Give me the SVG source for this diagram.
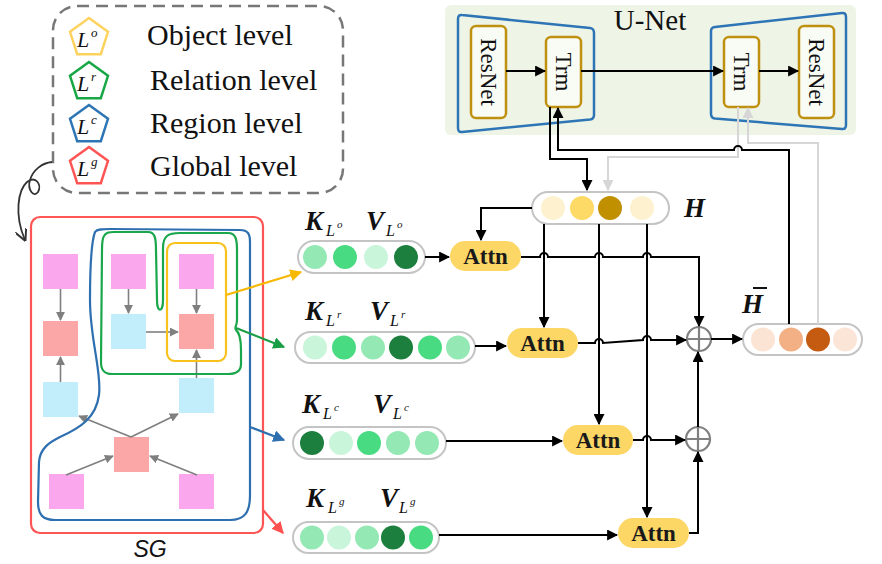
<svg xmlns="http://www.w3.org/2000/svg" width="882" height="564" viewBox="0 0 882 564">
  <style>
    .serif { font-family: "Liberation Serif", "Times New Roman", serif; fill: #111; }
    .leg { font-size: 30px; }
    .lt { font-family: "Liberation Serif", serif; font-style: italic; font-size: 22px; fill: #111; }
    .lsup { font-family: "Liberation Serif", serif; font-style: italic; font-size: 13px; fill: #111; }
    .kv { font-family: "Liberation Serif", serif; font-style: italic; font-weight: bold; font-size: 27px; fill: #111; }
    .sub { font-family: "Liberation Serif", serif; font-style: italic; font-size: 16px; fill: #111; }
    .sup { font-family: "Liberation Serif", serif; font-style: italic; font-size: 11px; fill: #111; }
    .attn rect { fill: #fdd766; }
    .attn text { font-family: "Liberation Serif", serif; font-weight: bold; font-size: 23px; fill: #1a1a1a; text-anchor: middle; }
    .pill { fill: #fff; stroke: #c4c4c4; stroke-width: 2; }
    .blk { fill: none; stroke: #000; stroke-width: 2; }
    .gry { fill: none; stroke: #d6d6d6; stroke-width: 2; }
    .sg { fill: none; stroke: #7f7f7f; stroke-width: 1.6; }
    .box { fill: #f9fcf5; stroke: #c09010; stroke-width: 2.5; }
    .trap { fill: none; stroke: #2e75b6; stroke-width: 2.5; stroke-linejoin: round; }
    .rot { font-family: "Liberation Serif", serif; font-size: 23px; fill: #111; text-anchor: middle; }
    .plus circle { fill: #fff; stroke: #808080; stroke-width: 2.2; }
    .plus path { stroke: #808080; stroke-width: 2.2; }
    .pk { fill: #fba7ee; }
    .sm { fill: #fca7a7; }
    .lb { fill: #c2edfb; }
    .g1 { fill: #94e8b4; } .g2 { fill: #48db82; } .g3 { fill: #c9f5da; } .g4 { fill: #1c7f3d; }
  </style>
  <defs>
    <marker id="ab" viewBox="0 0 10 10" refX="9" refY="5" markerWidth="11" markerHeight="11" orient="auto" markerUnits="userSpaceOnUse">
      <path d="M0,0 L10,5 L0,10 z" fill="#000"/>
    </marker>
    <marker id="ag" viewBox="0 0 10 10" refX="9" refY="5" markerWidth="11" markerHeight="11" orient="auto" markerUnits="userSpaceOnUse">
      <path d="M0,0 L10,5 L0,10 z" fill="#d6d6d6"/>
    </marker>
    <marker id="as" viewBox="0 0 10 10" refX="9" refY="5" markerWidth="9" markerHeight="9" orient="auto" markerUnits="userSpaceOnUse">
      <path d="M0,0 L10,5 L0,10 z" fill="#7f7f7f"/>
    </marker>
    <marker id="ay" viewBox="0 0 10 10" refX="9" refY="5" markerWidth="12" markerHeight="12" orient="auto" markerUnits="userSpaceOnUse">
      <path d="M0,0 L10,5 L0,10 z" fill="#f7b800"/>
    </marker>
    <marker id="agr" viewBox="0 0 10 10" refX="9" refY="5" markerWidth="12" markerHeight="12" orient="auto" markerUnits="userSpaceOnUse">
      <path d="M0,0 L10,5 L0,10 z" fill="#1a9e45"/>
    </marker>
    <marker id="abl" viewBox="0 0 10 10" refX="9" refY="5" markerWidth="12" markerHeight="12" orient="auto" markerUnits="userSpaceOnUse">
      <path d="M0,0 L10,5 L0,10 z" fill="#2e6fb0"/>
    </marker>
    <marker id="ar" viewBox="0 0 10 10" refX="9" refY="5" markerWidth="12" markerHeight="12" orient="auto" markerUnits="userSpaceOnUse">
      <path d="M0,0 L10,5 L0,10 z" fill="#ff5050"/>
    </marker>
    <marker id="aopen" viewBox="0 0 10 10" refX="9" refY="5" markerWidth="12" markerHeight="12" orient="auto" markerUnits="userSpaceOnUse">
      <path d="M0,0 L10,5 L0,10" fill="none" stroke="#333" stroke-width="1.6"/>
    </marker>
  </defs>

  <!-- legend -->
  <g id="legend">
    <rect x="53" y="6" width="290" height="187" rx="24" fill="#fff" stroke="#777" stroke-width="2.5" stroke-dasharray="12,7"/>
    <g transform="translate(89,38)">
      <polygon points="0,-20 19,-6.2 11.8,16.2 -11.8,16.2 -19,-6.2" fill="#fff" stroke="#fdd25e" stroke-width="2.5"/>
      <text class="lt" x="-12" y="9">L</text><text class="lsup" x="2" y="-1">o</text>
    </g>
    <g transform="translate(89,82)">
      <polygon points="0,-20 19,-6.2 11.8,16.2 -11.8,16.2 -19,-6.2" fill="#fff" stroke="#17a845" stroke-width="2.5"/>
      <text class="lt" x="-12" y="9">L</text><text class="lsup" x="2" y="-1">r</text>
    </g>
    <g transform="translate(89,125)">
      <polygon points="0,-20 19,-6.2 11.8,16.2 -11.8,16.2 -19,-6.2" fill="#fff" stroke="#2e75b6" stroke-width="2.5"/>
      <text class="lt" x="-12" y="9">L</text><text class="lsup" x="2" y="-1">c</text>
    </g>
    <g transform="translate(89,167)">
      <polygon points="0,-20 19,-6.2 11.8,16.2 -11.8,16.2 -19,-6.2" fill="#fff" stroke="#ff5454" stroke-width="2.5"/>
      <text class="lt" x="-12" y="9">L</text><text class="lsup" x="2" y="-1">g</text>
    </g>
    <text class="serif leg" x="147" y="45">Object level</text>
    <text class="serif leg" x="150" y="90">Relation level</text>
    <text class="serif leg" x="150" y="133">Region level</text>
    <text class="serif leg" x="150" y="176">Global level</text>
  </g>

  <!-- curly pointer from legend to scene graph -->
  <path d="M52,162 C42,163 33,170 30,180 C27,190 34,198 38,192 C42,185 36,175 27,182 C18,190 14,215 25,240" fill="none" stroke="#333" stroke-width="1.8" marker-end="url(#aopen)"/>

  <!-- U-Net -->
  <g id="unet">
    <rect x="445" y="5" width="411" height="130" rx="6" fill="#eef5e7"/>
    <text class="serif" x="650" y="30" font-size="29" text-anchor="middle">U-Net</text>
    <path class="trap" d="M462,15 L590,28 Q594,28.5 594,33 L594,115 Q594,119 590,119.5 L462,132 Q458,132.5 458,128 L458,19 Q458,14.5 462,15 Z"/>
    <path class="trap" d="M715,27 L842,13 Q846,12.5 846,17 L846,125 Q846,129.5 842,129 L715,118.5 Q711,118 711,114 L711,31 Q711,27.5 715,27 Z"/>
    <g id="resnet-l"><rect class="box" x="471" y="26" width="35" height="92" rx="5"/><text class="rot" transform="translate(488.5,72) rotate(90)" y="8">ResNet</text></g>
    <g id="trm-l"><rect class="box" x="546" y="37" width="35" height="70" rx="5"/><text class="rot" transform="translate(563.5,72) rotate(90)" y="8">Trm</text></g>
    <g id="trm-r"><rect class="box" x="724" y="37" width="35" height="70" rx="5"/><text class="rot" transform="translate(741.5,72) rotate(90)" y="8">Trm</text></g>
    <g id="resnet-r"><rect class="box" x="799" y="26" width="35" height="92" rx="5"/><text class="rot" transform="translate(816.5,72) rotate(90)" y="8">ResNet</text></g>
  </g>

  <!-- scene graph -->
  <g id="sg">
    <rect x="31" y="217" width="232" height="316" rx="9" fill="#fff" stroke="#ff5555" stroke-width="2.2"/>
    <text x="150" y="557" font-family="'Liberation Sans', sans-serif" font-style="italic" font-size="23" fill="#111" text-anchor="middle">SG</text>
    <g id="sg-nodes">
      <rect class="pk" x="43" y="254" width="35" height="35"/>
      <rect class="pk" x="111" y="254" width="35" height="35"/>
      <rect class="pk" x="179" y="254" width="35" height="35"/>
      <rect class="pk" x="49" y="474" width="35" height="35"/>
      <rect class="pk" x="179" y="474" width="35" height="35"/>
      <rect class="sm" x="43" y="321" width="35" height="35"/>
      <rect class="sm" x="179" y="314" width="35" height="35"/>
      <rect class="sm" x="114" y="437" width="35" height="35"/>
      <rect class="lb" x="43" y="382" width="35" height="35"/>
      <rect class="lb" x="111" y="314" width="35" height="35"/>
      <rect class="lb" x="179" y="378" width="35" height="35"/>
    </g>
    <g id="sg-edges">
      <path class="sg" d="M60.5,289 V320" marker-end="url(#as)"/>
      <path class="sg" d="M60.5,382 V357" marker-end="url(#as)"/>
      <path class="sg" d="M128.5,289 V313" marker-end="url(#as)"/>
      <path class="sg" d="M196.5,289 V313" marker-end="url(#as)"/>
      <path class="sg" d="M146,332 H178" marker-end="url(#as)"/>
      <path class="sg" d="M196.5,378 V350" marker-end="url(#as)"/>
      <path class="sg" d="M131,437 L79,416" marker-end="url(#as)"/>
      <path class="sg" d="M131,437 L178,414" marker-end="url(#as)"/>
      <path class="sg" d="M66,475 L113,456" marker-end="url(#as)"/>
      <path class="sg" d="M197,475 L150,456" marker-end="url(#as)"/>
    </g>
    <!-- level outlines -->
    <rect x="167" y="243" width="59" height="118" rx="8" fill="none" stroke="#f8c11c" stroke-width="2.2"/>
    <path d="M104,236 C106,232 110,232 114,232 L148,232 C155,232 156,238 156,250 L157,300 C157,313 163,313 163,300 L163,248 C163,236 168,233 180,233 L228,233 C236,233 237,240 237,250 L237,320 C237,326 234,327 236,330 C240,333 241,340 241,350 L241,364 C241,372 235,374 228,374 L112,374 C104,374 101,370 101,362 L102,250 C102,243 102,239 104,236 Z" fill="none" stroke="#1aa64a" stroke-width="2.2"/>
    <path d="M95,232 C97,229 102,229 110,229 L240,230 C248,230 250,234 250,242 L250,495 C250,512 245,520 230,520 L55,520 C43,520 38,515 38,502 L39,462 C40,448 50,442 60,437 C80,428 96,418 99,395 C102,372 90,340 90,300 C90,262 92,240 95,232 Z" fill="none" stroke="#2e6fb0" stroke-width="2.2"/>
    <!-- outlines feed the per-level key/value sequences -->
    <path d="M226,295 L301,272" fill="none" stroke="#f7b800" stroke-width="2.2" marker-end="url(#ay)"/>
    <path d="M236,328 L284,347" fill="none" stroke="#1a9e45" stroke-width="2.2" marker-end="url(#agr)"/>
    <path d="M250,427 L284,440" fill="none" stroke="#2e6fb0" stroke-width="2.2" marker-end="url(#abl)"/>
    <path d="M263,510 L283,533" fill="none" stroke="#ff5050" stroke-width="2.2" marker-end="url(#ar)"/>
  </g>

  <!-- key/value sequences -->
  <g id="kv-o">
    <text class="kv" x="305" y="230">K</text><text class="sub" x="326" y="236">L</text><text class="sup" x="337" y="228">o</text>
    <text class="kv" x="366" y="230">V</text><text class="sub" x="386" y="236">L</text><text class="sup" x="397" y="228">o</text>
    <rect class="pill" x="298" y="241" width="127" height="32" rx="16"/>
    <circle class="g1" cx="315" cy="257" r="12"/><circle class="g2" cx="345" cy="257" r="12"/>
    <circle class="g3" cx="376" cy="257" r="12"/><circle class="g4" cx="406" cy="257" r="12"/>
  </g>
  <g id="kv-r">
    <text class="kv" x="305" y="320">K</text><text class="sub" x="326" y="326">L</text><text class="sup" x="337" y="318">r</text>
    <text class="kv" x="370" y="320">V</text><text class="sub" x="390" y="326">L</text><text class="sup" x="401" y="318">r</text>
    <rect class="pill" x="295" y="332" width="180" height="31" rx="15.5"/>
    <circle class="g3" cx="315" cy="347.5" r="12"/><circle class="g2" cx="344" cy="347.5" r="12"/>
    <circle class="g1" cx="373" cy="347.5" r="12"/><circle class="g4" cx="401" cy="347.5" r="12"/>
    <circle class="g2" cx="430" cy="347.5" r="12"/><circle class="g1" cx="458" cy="347.5" r="12"/>
  </g>
  <g id="kv-c">
    <text class="kv" x="302" y="413">K</text><text class="sub" x="323" y="419">L</text><text class="sup" x="334" y="411">c</text>
    <text class="kv" x="373" y="413">V</text><text class="sub" x="393" y="419">L</text><text class="sup" x="404" y="411">c</text>
    <rect class="pill" x="293" y="427" width="153" height="32" rx="16"/>
    <circle class="g4" cx="312" cy="443" r="12"/><circle class="g3" cx="341" cy="443" r="12"/>
    <circle class="g2" cx="369" cy="443" r="12"/><circle class="g1" cx="398" cy="443" r="12"/>
    <circle class="g1" cx="427" cy="443" r="12"/>
  </g>
  <g id="kv-g">
    <text class="kv" x="306" y="507">K</text><text class="sub" x="328" y="513">L</text><text class="sup" x="339" y="505">g</text>
    <text class="kv" x="380" y="507">V</text><text class="sub" x="399" y="513">L</text><text class="sup" x="410" y="505">g</text>
    <rect class="pill" x="293" y="522" width="146" height="31" rx="15.5"/>
    <circle class="g1" cx="312" cy="537.5" r="12"/><circle class="g3" cx="339" cy="537.5" r="12"/>
    <circle class="g1" cx="367" cy="537.5" r="12"/><circle class="g4" cx="393" cy="537.5" r="12"/>
    <circle class="g2" cx="421" cy="537.5" r="12"/>
  </g>

  <!-- hidden states -->
  <g id="h">
    <rect class="pill" x="532" y="192" width="137" height="32" rx="16"/>
    <circle cx="553" cy="208" r="12" fill="#fef1cf"/><circle cx="582" cy="208" r="12" fill="#fdd966"/>
    <circle cx="610" cy="208" r="12" fill="#c09000"/><circle cx="642" cy="208" r="12" fill="#fef1cf"/>
    <text class="kv" x="684" y="217" font-size="28">H</text>
  </g>
  <g id="hbar">
    <rect class="pill" x="743" y="324" width="119" height="31" rx="15.5"/>
    <circle cx="763" cy="339.5" r="12" fill="#fbe4d4"/><circle cx="791" cy="339.5" r="12" fill="#f3b084"/>
    <circle cx="818" cy="339.5" r="12" fill="#c55a11"/><circle cx="845" cy="339.5" r="12" fill="#fbe5d7"/>
    <text class="kv" x="742" y="313" font-size="28">H</text>
    <path d="M753,288 H767" stroke="#111" stroke-width="2"/>
  </g>

  <!-- attention blocks -->
  <g id="attn-o" class="attn"><rect x="450" y="241" width="71" height="30" rx="15"/><text x="485.5" y="264">Attn</text></g>
  <g id="attn-r" class="attn"><rect x="507" y="328" width="71" height="30" rx="15"/><text x="542.5" y="351">Attn</text></g>
  <g id="attn-c" class="attn"><rect x="563" y="425" width="70" height="30" rx="15"/><text x="598" y="448">Attn</text></g>
  <g id="attn-g" class="attn"><rect x="618" y="518" width="71" height="30" rx="15"/><text x="653.5" y="541">Attn</text></g>

  <!-- sum nodes -->
  <g id="sum1" class="plus"><circle cx="699" cy="339" r="12"/><path d="M687,339 H711 M699,327 V351"/></g>
  <g id="sum2" class="plus"><circle cx="698" cy="439" r="12"/><path d="M686,439 H710 M698,427 V451"/></g>

  <!-- connectors -->
  <g id="connectors">
    <!-- U-Net internal flow -->
    <path class="blk" d="M506,71 H545" marker-end="url(#ab)"/>
    <path class="blk" d="M581,71 H723" marker-end="url(#ab)"/>
    <path class="blk" d="M759,71 H798" marker-end="url(#ab)"/>
    <!-- U-Net to H and back -->
    <path class="gry" d="M738,107 V157 H608 V190" marker-end="url(#ag)"/>
    <path class="gry" d="M818,324 V143 H748 V108" marker-end="url(#ag)"/>
    <path class="blk" d="M550,107 V159 H587 V190" marker-end="url(#ab)"/>
    <path class="blk" d="M789,324 V150 H742 a4,4 0 0 0 -8,0 H558 V108" marker-end="url(#ab)"/>
    <!-- H as query -->
    <path class="blk" d="M532,208 H481 V240" marker-end="url(#ab)"/>
    <path class="blk" d="M544,224 V327" marker-end="url(#ab)"/>
    <path class="blk" d="M599,224 V424" marker-end="url(#ab)"/>
    <path class="blk" d="M647,224 V517" marker-end="url(#ab)"/>
    <!-- key/value sequences into attention -->
    <path class="blk" d="M425,257 H449" marker-end="url(#ab)"/>
    <path class="blk" d="M475,346 H506" marker-end="url(#ab)"/>
    <path class="blk" d="M446,441 H562" marker-end="url(#ab)"/>
    <path class="blk" d="M439,535 H617" marker-end="url(#ab)"/>
    <!-- attention outputs to sums -->
    <path class="blk" d="M521,257 H540 a4,4 0 0 1 8,0 H595 a4,4 0 0 1 8,0 H643 a4,4 0 0 1 8,0 H699 V326" marker-end="url(#ab)"/>
    <path class="blk" d="M578,343 H595 a4,4 0 0 1 8,0 L643,340 a4,4 0 0 1 8,0 H686" marker-end="url(#ab)"/>
    <path class="blk" d="M633,440 H643 a4,4 0 0 1 8,0 H685" marker-end="url(#ab)"/>
    <path class="blk" d="M689,533 H698 V452" marker-end="url(#ab)"/>
    <path class="blk" d="M698,427 V352" marker-end="url(#ab)"/>
    <path class="blk" d="M711,339 H742" marker-end="url(#ab)"/>
  </g>
</svg>
